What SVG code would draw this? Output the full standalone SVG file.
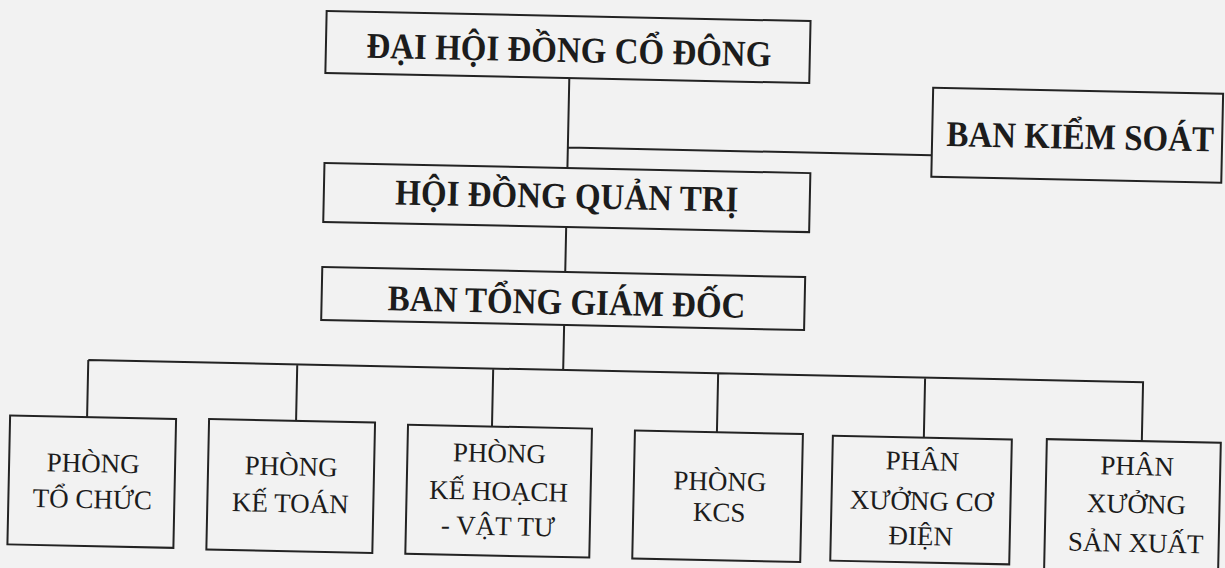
<svg xmlns="http://www.w3.org/2000/svg" width="1225" height="568" viewBox="0 0 1225 568">
<style>
.box{fill:none;stroke:#232323;stroke-width:2}
.ln{fill:none;stroke:#232323;stroke-width:2}
.tb{font-family:"Liberation Serif",serif;font-weight:bold;font-size:33px;fill:#1c1c1c;text-anchor:middle}
.tr{font-family:"Liberation Serif",serif;font-size:27px;fill:#1c1c1c;text-anchor:middle}
</style>
<rect x="0" y="0" width="1225" height="568" fill="#f2f2f2"/>
<g transform="rotate(1.2 612 284)">
<g id="connectors">
<path class="ln" d="M565 79 V169 M565 148.5 H929 M565 228 V273 M565 326 V371 M90 371 H1146 M90 371 V428 M299 371 V427.5 M495 371 V429 M720 371 V430 M927 371 V431 M1145 371 V430"/>
</g>
<g id="dhdcd">
<rect class="box" x="321" y="17" width="484" height="62"/>
<text class="tb" transform="translate(564 63) scale(1 1.1)">ĐẠI HỘI ĐỒNG CỔ ĐÔNG</text>
</g>
<g id="bks">
<rect class="box" x="929" y="81" width="290" height="89"/>
<text class="tb" transform="translate(1077 139) scale(1 1.1)">BAN KIỂM SOÁT</text>
</g>
<g id="hdqt">
<rect class="box" x="322" y="169" width="486" height="59"/>
<text class="tb" transform="translate(565 209) scale(1 1.1)">HỘI ĐỒNG QUẢN TRỊ</text>
</g>
<g id="btgd">
<rect class="box" x="322" y="273" width="483" height="53"/>
<text class="tb" transform="translate(567 315) scale(1 1.1)">BAN TỔNG GIÁM ĐỐC</text>
</g>
<g id="to-chuc">
<rect class="box" x="13" y="428" width="166" height="129"/>
<text class="tr" x="97" y="483">PHÒNG</text>
<text class="tr" x="97" y="519">TỔ CHỨC</text>
</g>
<g id="ke-toan">
<rect class="box" x="212" y="427.5" width="166" height="130.5"/>
<text class="tr" x="295" y="482">PHÒNG</text>
<text class="tr" x="295" y="519">KẾ TOÁN</text>
</g>
<g id="ke-hoach">
<rect class="box" x="411" y="429" width="184" height="129"/>
<text class="tr" x="503" y="464.5">PHÒNG</text>
<text class="tr" x="503" y="502.5">KẾ HOẠCH</text>
<text class="tr" x="503" y="537.5">- VẬT TƯ</text>
</g>
<g id="kcs">
<rect class="box" x="638" y="430" width="168" height="128"/>
<text class="tr" x="724" y="488">PHÒNG</text>
<text class="tr" x="724" y="519">KCS</text>
</g>
<g id="co-dien">
<rect class="box" x="836" y="431" width="179" height="125"/>
<text class="tr" x="926" y="463.5">PHÂN</text>
<text class="tr" x="926" y="503.5">XƯỞNG CƠ</text>
<text class="tr" x="926" y="538.5">ĐIỆN</text>
</g>
<g id="san-xuat">
<rect class="box" x="1050" y="430" width="174" height="132"/>
<text class="tr" x="1141" y="464">PHÂN</text>
<text class="tr" x="1141" y="502">XƯỞNG</text>
<text class="tr" x="1141" y="541">SẢN XUẤT</text>
</g>
</g>
</svg>
